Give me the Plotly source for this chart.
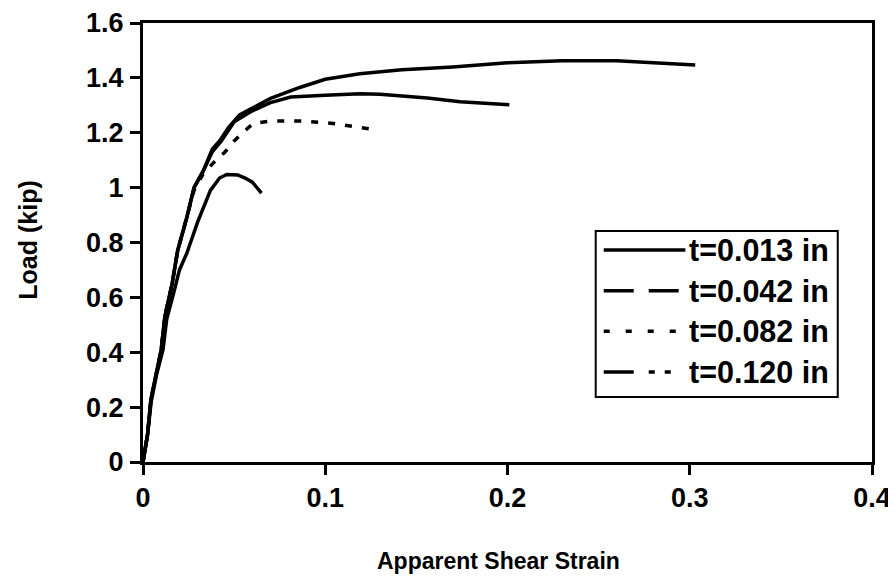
import plotly.graph_objects as go

# ---- data ----
series_names = ["t=0.013 in", "t=0.042 in", "t=0.082 in", "t=0.120 in"]

strain_013 = [0, 0.0025, 0.0043, 0.007, 0.010, 0.012, 0.016, 0.019, 0.024, 0.028, 0.033, 0.038, 0.042,
              0.047, 0.053, 0.060, 0.070, 0.086, 0.100, 0.119, 0.142, 0.170, 0.200, 0.230,
              0.260, 0.280, 0.303]
load_013 = [0, 0.10, 0.226, 0.32, 0.41, 0.53, 0.65, 0.77, 0.89, 1.00, 1.06, 1.14, 1.17,
            1.22, 1.265, 1.29, 1.325, 1.365, 1.395, 1.415, 1.43, 1.44, 1.455, 1.462,
            1.462, 1.455, 1.447]

strain_042 = [0, 0.0025, 0.0043, 0.007, 0.010, 0.012, 0.016, 0.019, 0.024, 0.028, 0.033, 0.038, 0.043,
              0.050, 0.060, 0.070, 0.081, 0.100, 0.119, 0.130, 0.156, 0.174, 0.201]
load_042 = [0, 0.10, 0.226, 0.32, 0.41, 0.53, 0.65, 0.77, 0.89, 1.00, 1.06, 1.13, 1.17,
            1.24, 1.28, 1.31, 1.33, 1.337, 1.342, 1.34, 1.327, 1.313, 1.302]

strain_082 = [0, 0.0025, 0.0043, 0.007, 0.010, 0.012, 0.016, 0.019, 0.024, 0.028, 0.033, 0.040, 0.045,
              0.050, 0.058, 0.061, 0.071, 0.087, 0.103, 0.115, 0.129]
load_082 = [0, 0.10, 0.226, 0.32, 0.41, 0.53, 0.65, 0.77, 0.89, 0.99, 1.05, 1.10, 1.13,
            1.17, 1.22, 1.235, 1.243, 1.243, 1.235, 1.222, 1.21]

strain_120 = [0, 0.0025, 0.0045, 0.0075, 0.011, 0.013, 0.017, 0.020, 0.024, 0.030, 0.037, 0.042,
              0.046, 0.052, 0.056, 0.060, 0.065]
load_120 = [0, 0.10, 0.22, 0.32, 0.41, 0.52, 0.62, 0.70, 0.76, 0.875, 0.99, 1.035,
            1.048, 1.046, 1.035, 1.02, 0.98]

x_ticks = [0, 0.1, 0.2, 0.3, 0.4]
x_tick_labels = ["0", "0.1", "0.2", "0.3", "0.4"]
y_ticks = [0, 0.2, 0.4, 0.6, 0.8, 1.0, 1.2, 1.4, 1.6]
y_tick_labels = ["0", "0.2", "0.4", "0.6", "0.8", "1", "1.2", "1.4", "1.6"]

FONT = "Liberation Sans, Arial, sans-serif"
LW = 3.5

fig = go.Figure()
plot_dash = ["solid", "solid", "7px,10px", "solid"]
xs = [strain_013, strain_042, strain_082, strain_120]
ys = [load_013, load_042, load_082, load_120]
for name, x, y, d in zip(series_names, xs, ys, plot_dash):
    fig.add_trace(go.Scatter(x=x, y=y, mode="lines", name=name,
                             line=dict(color="black", width=LW, dash=d),
                             showlegend=False))

# ---- custom legend (box, samples, labels) ----
legend_dash = ["solid", "30px,15px", "6px,16px", "30px,15px,6px,10px,6px,15px"]
lx0, lx1 = 0.621, 0.953
ly0, ly1 = 0.148, 0.526
fig.add_shape(type="rect", xref="paper", yref="paper", x0=lx0, x1=lx1, y0=ly0, y1=ly1,
              line=dict(color="black", width=2), fillcolor="white", layer="above")
entry_y = [0.483, 0.39, 0.298, 0.205]
for name, d, yy in zip(series_names, legend_dash, entry_y):
    fig.add_shape(type="line", xref="paper", yref="paper", x0=0.632, x1=0.744, y0=yy, y1=yy,
                  line=dict(color="black", width=LW, dash=d), layer="above")
    fig.add_annotation(xref="paper", yref="paper", x=0.746, y=yy, text=name, showarrow=False,
                       xanchor="left", yanchor="middle",
                       font=dict(family=FONT, size=30.5, color="black", weight="bold"))

# axis titles
fig.add_annotation(xref="paper", yref="paper", x=0.487, y=-0.2255, text="Apparent Shear Strain",
                   showarrow=False, xanchor="center", yanchor="middle",
                   font=dict(family=FONT, size=23, color="black", weight="bold"))
fig.add_annotation(xref="paper", yref="paper", x=-0.158, y=0.506, text="Load (kip)", textangle=-90,
                   showarrow=False, xanchor="center", yanchor="middle",
                   font=dict(family=FONT, size=25, color="black", weight="bold"))

axis_common = dict(showline=True, linecolor="black", linewidth=3, mirror=True,
                   showgrid=False, zeroline=False, ticks="outside", tickcolor="black",
                   tickwidth=3, ticklen=10, automargin=False,
                   tickfont=dict(family=FONT, size=27, color="black", weight="bold"))

fig.update_xaxes(range=[0, 0.4], tickvals=x_ticks, ticktext=x_tick_labels,
                 ticklabelstandoff=0, **axis_common)
fig.update_yaxes(range=[0, 1.6], tickvals=y_ticks, ticktext=y_tick_labels,
                 ticklabelstandoff=1, **axis_common)

# page body has an 8px margin, so the figure is 8px smaller than the window
fig.update_layout(width=888, height=578, plot_bgcolor="white", paper_bgcolor="white",
                  margin=dict(l=135, r=24, t=15, b=124), showlegend=False)

fig.write_html("out.html")
